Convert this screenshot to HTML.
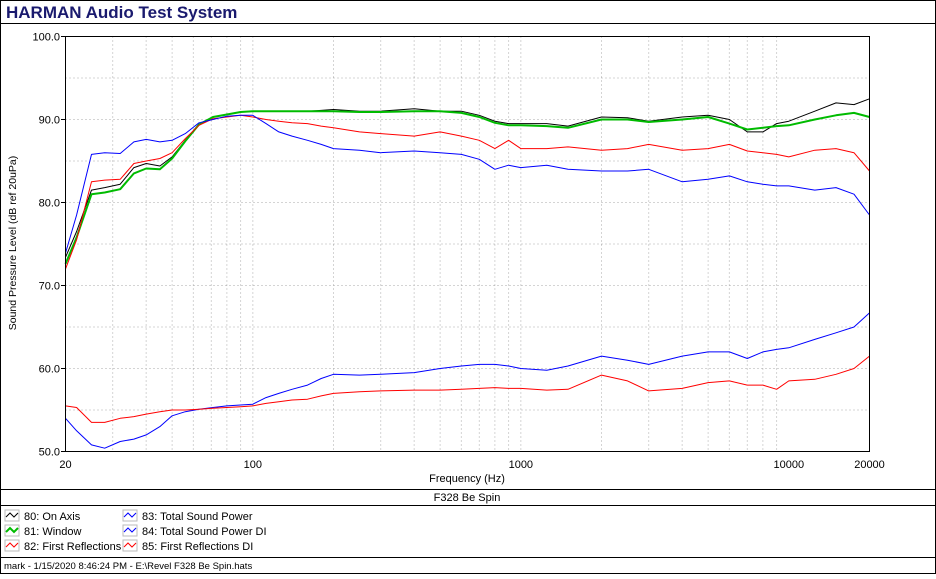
<!DOCTYPE html>
<html><head><meta charset="utf-8"><style>
body{margin:0;background:#fff;font-family:"Liberation Sans",sans-serif}
svg text{font-family:"Liberation Sans",sans-serif}
</style></head><body>
<svg id="c" width="936" height="574" xmlns="http://www.w3.org/2000/svg">
<rect x="0.5" y="0.5" width="935" height="573" fill="#fff" stroke="#000"/>
<text x="6" y="18" font-size="17" font-weight="bold" fill="#1a1a6e">HARMAN Audio Test System</text>
<line x1="0" y1="23.5" x2="936" y2="23.5" stroke="#000"/>
<g id="grid"></g>
<g id="series"></g>
<rect x="65.5" y="36.5" width="804" height="415" fill="none" stroke="#000"/>
<g id="axes" font-size="11"></g>
<text transform="translate(16,243) rotate(-90)" text-anchor="middle" font-size="10.5">Sound Pressure Level (dB ref 20uPa)</text>
<text x="467" y="482" text-anchor="middle" font-size="11">Frequency (Hz)</text>
<line x1="0" y1="489.5" x2="936" y2="489.5" stroke="#000"/>
<text x="467" y="501" text-anchor="middle" font-size="11">F328 Be Spin</text>
<line x1="0" y1="505.5" x2="936" y2="505.5" stroke="#000"/>
<g id="legend" font-size="11"></g>
<line x1="0" y1="557.5" x2="936" y2="557.5" stroke="#000"/>
<text x="4" y="569" font-size="9.5">mark - 1/15/2020 8:46:24 PM - E:\Revel F328 Be Spin.hats</text>
</svg>
<script>
const freqs=[20,22,25,28,32,36,40,45,50,56,63,71,80,90,100,112,125,140,160,180,200,250,300,400,500,600,700,800,900,1000,1250,1500,2000,2500,3000,4000,5000,6000,7000,8000,9000,10000,12500,15000,17500,20000];
const onAxis=[73.4,76.5,81.5,81.8,82.2,84.2,84.7,84.4,85.5,87.5,89.4,90.3,90.6,90.9,91,91,91,91,91,91.1,91.2,91,91,91.3,91,91,90.5,89.8,89.5,89.5,89.5,89.2,90.3,90.2,89.8,90.3,90.5,90,88.5,88.5,89.5,89.8,91,92,91.8,92.5];
const windowed=[72.6,75.8,81,81.2,81.6,83.5,84.1,84,85.3,87.4,89.4,90.3,90.6,90.9,91,91,91,91,91,91,91,90.9,90.9,91,91,90.8,90.3,89.6,89.3,89.3,89.2,89,90,90,89.7,90,90.3,89.5,88.8,89,89.2,89.3,90,90.5,90.8,90.3];
const firstRefl=[72,75.5,82.5,82.7,82.8,84.7,85,85.3,86,87.7,89.3,90.1,90.3,90.5,90.3,90,89.8,89.6,89.5,89.2,89,88.5,88.3,88,88.5,88,87.5,86.5,87.5,86.5,86.5,86.7,86.3,86.5,87,86.3,86.5,87,86.2,86,85.8,85.5,86.3,86.5,86,83.8];
const soundPower=[73.9,78.5,85.8,86,85.9,87.3,87.6,87.3,87.5,88.3,89.6,90,90.4,90.5,90.5,89.5,88.5,88,87.5,87,86.5,86.3,86,86.2,86,85.8,85.2,84,84.5,84.2,84.5,84,83.8,83.8,84,82.5,82.8,83.2,82.5,82.2,82,82,81.5,81.8,81,78.5];
const soundPowerDI=[54,52.5,50.8,50.4,51.2,51.5,52,53,54.3,54.8,55.1,55.3,55.5,55.6,55.7,56.5,57,57.5,58,58.8,59.3,59.2,59.3,59.5,60,60.3,60.5,60.5,60.3,60,59.8,60.3,61.5,61,60.5,61.5,62,62,61.2,62,62.3,62.5,63.5,64.3,65,66.7];
const firstReflDI=[55.5,55.3,53.5,53.5,54,54.2,54.5,54.8,55,55,55.1,55.2,55.3,55.4,55.5,55.8,56,56.2,56.3,56.7,57,57.2,57.3,57.4,57.4,57.5,57.6,57.7,57.6,57.6,57.4,57.5,59.2,58.5,57.3,57.6,58.3,58.5,58,58,57.5,58.5,58.7,59.3,60,61.5];
const yTicks=[50,60,70,80,90,100];
const xTickLabels=[20,100,1000,10000,20000];
const NS="http://www.w3.org/2000/svg";
const X0=65.5,X1=869.5,Y0=36.5,Y1=451.5;
function xs(f){return X0+Math.log10(f/20)/3*(X1-X0);}
function ys(d){return Y1-(d-50)/50*(Y1-Y0);}
function mk(t,a,p){const e=document.createElementNS(NS,t);for(const k in a)e.setAttribute(k,a[k]);p.appendChild(e);return e;}
const grid=document.getElementById('grid'),axes=document.getElementById('axes'),ser=document.getElementById('series'),leg=document.getElementById('legend');
for(let d=55;d<100;d+=5){const l=mk('line',{x1:X0,x2:X1,y1:ys(d),y2:ys(d),stroke:'#aaa','stroke-dasharray':'1,3'},grid);

}
[10,100,1000].forEach(dec=>{for(let m=1;m<10;m++){const f=dec*m;if(f<=20||f>=20000)continue;const l=mk('line',{x1:xs(f),x2:xs(f),y1:Y0,y2:Y1,stroke:'#aaa','stroke-dasharray':'1,3'},grid);

}});
yTicks.forEach(d=>{const t=mk('text',{x:60,y:ys(d)+4,'text-anchor':'end'},axes);t.textContent=d.toFixed(1);


mk('line',{x1:61,x2:X0,y1:ys(d),y2:ys(d),stroke:'#000'},axes);});
xTickLabels.forEach(f=>{const t=mk('text',{x:xs(f),y:468,'text-anchor':'middle'},axes);t.textContent=f;

});
const series=[[onAxis,'#000','on-axis-line',1],[windowed,'#0b0','window-line',2],[firstRefl,'#f00','first-reflections-line',1],[soundPower,'#00f','sound-power-line',1],[soundPowerDI,'#00f','sound-power-di-line',1],[firstReflDI,'#f00','first-reflections-di-line',1]];
series.forEach(s=>{const d=freqs.map((f,i)=>(i?'L':'M')+xs(f).toFixed(1)+','+ys(s[0][i]).toFixed(1)).join('');
const p=mk('path',{d:d,fill:'none',stroke:s[1],'stroke-width':s[3],'stroke-linejoin':'round'},ser);

});
const vl=mk('line',{x1:X0,x2:X0,y1:ys(soundPower[0]),y2:Y1,stroke:'#00f'},ser);


const items=[['80: On Axis','#000',5,516],['81: Window','#0b0',5,531],['82: First Reflections','#f00',5,546],['83: Total Sound Power','#00f',123,516],['84: Total Sound Power DI','#00f',123,531],['85: First Reflections DI','#f00',123,546]];
items.forEach((it,i)=>{const g=mk('g',{},leg);


mk('rect',{x:it[2],y:it[3]-6,width:14,height:11,fill:'#fff',stroke:'#bbb'},g);
mk('polyline',{points:`${it[2]+1},${it[3]+1} ${it[2]+5},${it[3]-3} ${it[2]+9},${it[3]+1} ${it[2]+13},${it[3]-3}`,fill:'none',stroke:it[1],'stroke-width':i==1?2:1},g);
const t=mk('text',{x:it[2]+19,y:it[3]+4},g);t.textContent=it[0];});
</script>
</body></html>
